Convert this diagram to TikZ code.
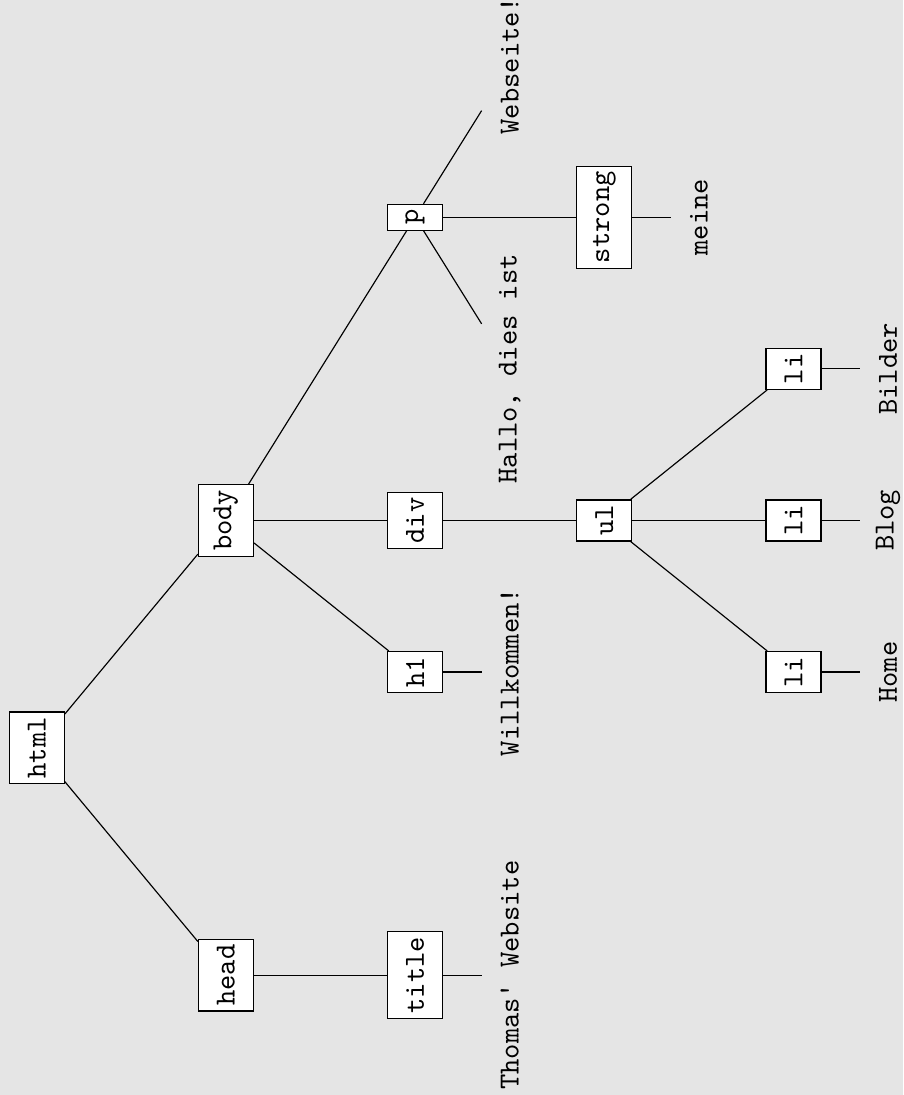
\documentclass[tikz,border=0pt]{standalone}
\usepackage{tikz}
\definecolor{bggray}{HTML}{E5E5E5}

\begin{document}
\begin{tikzpicture}[
    x=1.1425cm, y=1.8309cm,
    tag/.style={rectangle, draw, fill=white, rotate=90, font=\ttfamily, inner xsep=1.8pt, minimum height=18.9pt},
    leaf/.style={rectangle, rotate=90, font=\ttfamily, inner xsep=1.8pt, minimum height=18.9pt}
]
\useasboundingbox[fill=bggray] (-0.388,-2.290) rectangle (9.158,4.933);

\node[tag] (html) at (0,0) {html};
\node[tag] (head) at (2,-1.5) {head};
\node[tag] (body) at (2,1.5) {body};
\node[tag] (title) at (4,-1.5) {title};
\node[tag] (h1) at (4,0.5) {h1};
\node[tag] (div) at (4,1.5) {div};
\node[tag] (p) at (4,3.5) {p};
\node[tag] (ul) at (6,1.5) {ul};
\node[tag] (strong) at (6,3.5) {strong};
\node[tag] (li1) at (8,0.5) {li};
\node[tag] (li2) at (8,1.5) {li};
\node[tag] (li3) at (8,2.5) {li};

% text content
\node[leaf] (t-title) at (5,-1.5) {Thomas' Website};
\node[leaf] (t-h1) at (5,0.5) {Willkommen!};
\node[leaf] (t-p1) at (5,2.5) {Hallo, dies ist};
\node[leaf] (t-p2) at (5,4.5) {Webseite!};
\node[leaf] (t-strong) at (7,3.5) {meine};
\node[leaf] (t-li1) at (9,0.5) {Home};
\node[leaf] (t-li2) at (9,1.5) {Blog};
\node[leaf] (t-li3) at (9,2.5) {Bilder};

\draw (html) -- (head);
\draw (html) -- (body);
\draw (head) -- (title);
\draw (title) -- (t-title);
\draw (body) -- (h1);
\draw (body) -- (div);
\draw (body) -- (p);
\draw (h1) -- (t-h1);
\draw (div) -- (ul);
\draw (p) -- (t-p1);
\draw (p) -- (strong);
\draw (p) -- (t-p2);
\draw (strong) -- (t-strong);
\draw (ul) -- (li1);
\draw (ul) -- (li2);
\draw (ul) -- (li3);
\draw (li1) -- (t-li1);
\draw (li2) -- (t-li2);
\draw (li3) -- (t-li3);
\end{tikzpicture}
\end{document}
